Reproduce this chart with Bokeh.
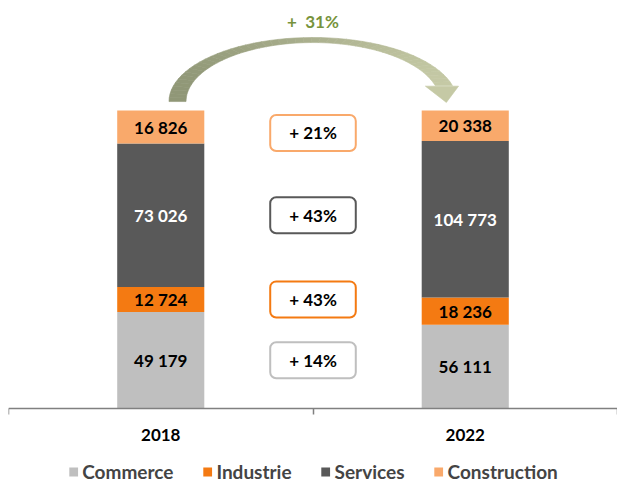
import numpy as np
from bokeh.plotting import figure
from bokeh.models import ColumnDataSource, Range1d, FixedTicker, Legend, LegendItem
from bokeh.core.properties import value
from bokeh.embed import file_html
from bokeh.resources import INLINE

# ---------------- data ----------------
years = ["2018", "2022"]
sectors = ["Commerce", "Industrie", "Services", "Construction"]
commerce = [49179, 56111]
industrie = [12724, 18236]
services = [73026, 104773]
construction = [16826, 20338]

# ---------------- styles ----------------
colors = ["#BFBFBF", "#F47A12", "#595959", "#F9A96B"]
label_colors = ["#000000", "#000000", "#FFFFFF", "#000000"]
FONT = "Lato"
AXIS_COLOR = "#808080"
GREEN = "#77933C"

series = [commerce, industrie, services, construction]
n_years = len(years)
totals = [sum(s[i] for s in series) for i in range(n_years)]
shares = [[s[i] / totals[i] for i in range(n_years)] for s in series]
xs = [i + 0.5 for i in range(n_years)]

FRAME_W, FRAME_H = 609, 475
PX_Y = 298.0
Y_TOP = 400 / PX_Y
Y_BOT = -(FRAME_H - 400) / PX_Y
p = figure(frame_width=FRAME_W, frame_height=FRAME_H, x_range=Range1d(0, 2),
           y_range=Range1d(Y_BOT, Y_TOP),
           output_backend="svg", toolbar_location=None, y_axis_location=None,
           min_border=0, min_border_left=8, min_border_top=8,
           background_fill_color="white", border_fill_color="white")
p.outline_line_color = None
p.xgrid.visible = False
p.ygrid.visible = False

# ---------------- stacked bars (100 %) ----------------
data = dict(x=xs)
for name, sh in zip(sectors, shares):
    data[name] = sh
src = ColumnDataSource(data)
BAR_W = 0.286
renderers = p.vbar_stack(sectors, x="x", width=BAR_W, fill_color=colors, line_color=None, source=src)

def fmt(v):
    return f"{v:,}".replace(",", " ")

mids_first = []
for k, s in enumerate(series):
    bottoms = [sum(shares[j][i] for j in range(k)) for i in range(n_years)]
    mids = [bottoms[i] + shares[k][i] / 2 for i in range(n_years)]
    mids_first.append(mids[0])
    p.text(x=xs, y=mids, text=[fmt(v) for v in s], text_align="center", text_baseline="middle",
           text_font=value(FONT), text_font_style="bold", text_font_size="17px",
           text_color=label_colors[k])

# ---------------- growth boxes ----------------
growth = [round((s[-1] / s[0] - 1) * 100) for s in series]
BOX_W, BOX_H = 0.281, 0.121
bx = (xs[0] + xs[1]) / 2
box_y = [min(m, 1 - BOX_H / 2 - 0.015) for m in mids_first]
p.quad(left=[bx - BOX_W / 2] * len(series), right=[bx + BOX_W / 2] * len(series),
       bottom=[y - BOX_H / 2 for y in box_y], top=[y + BOX_H / 2 for y in box_y],
       fill_color="white", line_color=colors, line_width=2, border_radius=6)
p.text(x=[bx] * len(series), y=box_y, text=[f"+ {g}%" for g in growth],
       text_align="center", text_baseline="middle", text_font=value(FONT),
       text_font_style="bold", text_font_size="17px", text_color="black")

# ---------------- curved arrow ----------------
cx, cy = bx, 1.03
rxo, ryo = 0.473, 0.215
rxi, ryi = 0.417, 0.198
end_dy = 0.0537
tho_end = np.arcsin(end_dy / ryo)
thi_end = np.arcsin(end_dy / ryi)
nseg = 48
t = np.linspace(0, 1, nseg + 1)
tho = np.pi + (tho_end - np.pi) * t
thi = np.pi + (thi_end - np.pi) * t
ox, oy = cx + rxo * np.cos(tho), cy + ryo * np.sin(tho)
ix, iy = cx + rxi * np.cos(thi), cy + ryi * np.sin(thi)
c_left = np.array([142, 149, 117])
c_right = np.array([200, 204, 168])
x_lo, x_hi = cx - rxo, cx + 0.478

def grad(xv):
    f = min(max((xv - x_lo) / (x_hi - x_lo), 0), 1)
    c = c_left + (c_right - c_left) * f
    return "#%02x%02x%02x" % tuple(int(round(v)) for v in c)

pxs, pys, pcs = [], [], []
for k in range(nseg):
    pxs.append([ox[k], ox[k + 1], ix[k + 1], ix[k]])
    pys.append([oy[k], oy[k + 1], iy[k + 1], iy[k]])
    pcs.append(grad((ox[k] + ox[k + 1] + ix[k] + ix[k + 1]) / 4))
head_x = [cx + 0.369, cx + 0.478, cx + 0.438]
head_y = [cy + end_dy - 0.002, cy + end_dy - 0.002, cy - 0.003]
pxs.append(head_x)
pys.append(head_y)
pcs.append(grad(cx + 0.43))
p.patches(xs=pxs, ys=pys, fill_color=pcs, line_color=pcs, line_width=0.6)

total_growth = round((totals[-1] / totals[0] - 1) * 100)
p.text(x=[cx], y=[cy + ryo + 0.054], text=[f"+\u00a0\u00a0{total_growth}%"], text_align="center",
       text_baseline="middle", text_font=value(FONT), text_font_style="bold",
       text_font_size="17px", text_color=GREEN)

# ---------------- axis (drawn at y = 0 inside the frame) ----------------
ax = p.xaxis[0]
ax.fixed_location = 0
ax.ticker = FixedTicker(ticks=xs, minor_ticks=[0, 1, 2])
ax.major_label_overrides = {x: y for x, y in zip(xs, years)}
ax.major_tick_out = 0
ax.major_tick_in = 0
ax.minor_tick_out = 6
ax.minor_tick_in = 0
ax.minor_tick_line_color = AXIS_COLOR
ax.minor_tick_line_width = 1.5
ax.axis_line_color = AXIS_COLOR
ax.axis_line_width = 1.5
ax.major_label_standoff = 14
ax.major_label_text_font = FONT
ax.major_label_text_font_style = "bold"
ax.major_label_text_font_size = "17px"
ax.major_label_text_color = "black"

# ---------------- legend (bottom of the frame) ----------------
legend = Legend(items=[LegendItem(label=n, renderers=[r]) for n, r in zip(sectors, renderers)],
                orientation="horizontal", location="bottom_center",
                glyph_width=11, glyph_height=11, label_standoff=4, spacing=28,
                padding=0, margin=0, border_line_color=None, background_fill_alpha=0,
                label_text_font=FONT, label_text_font_style="bold",
                label_text_font_size="19px", label_height=17)
p.add_layout(legend, "center")

open("out.html", "w").write(file_html(p, INLINE))
